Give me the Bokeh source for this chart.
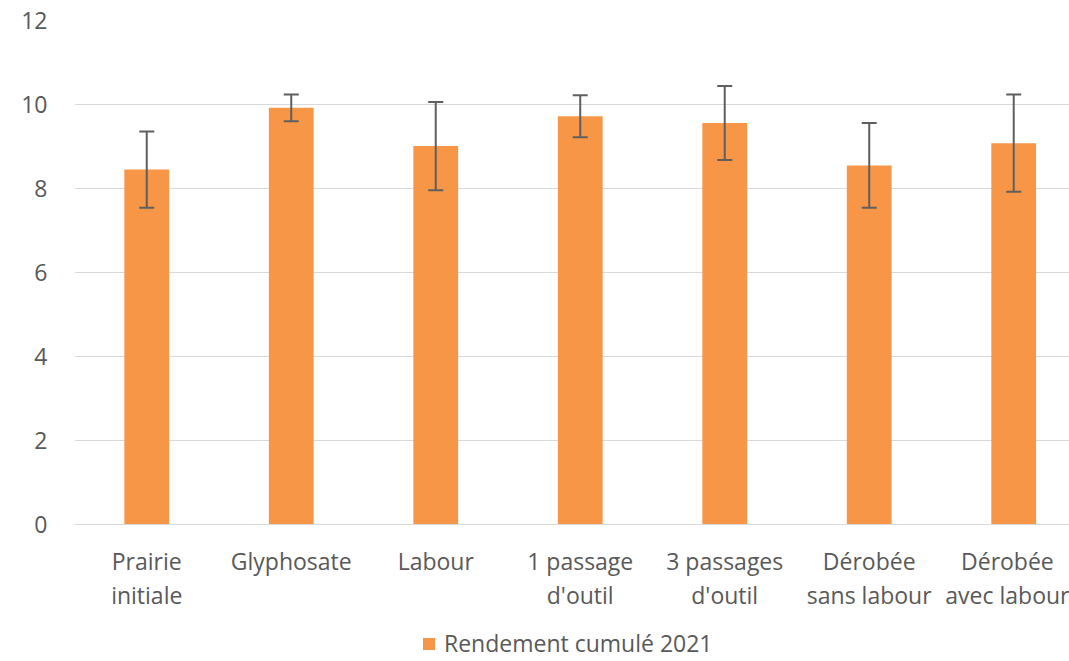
from bokeh.plotting import figure
from bokeh.layouts import column
from bokeh.models import (Whisker, TeeHead, ColumnDataSource, Legend, LegendItem,
                          FixedTicker, Range1d)
from bokeh.embed import file_html
from bokeh.resources import INLINE

categories = ["Prairie\ninitiale", "Glyphosate", "Labour", "1 passage\nd'outil",
              "3 passages\nd'outil", "Dérobée\nsans labour", "Dérobée\navec labour"]
rendement = [8.45, 9.92, 9.01, 9.72, 9.56, 8.55, 9.08]
erreur = [0.91, 0.32, 1.05, 0.50, 0.88, 1.01, 1.16]
series_name = "Rendement cumulé 2021"
y_ticks = [0, 2, 4, 6, 8, 10, 12]

xs = list(range(len(categories)))
src = ColumnDataSource(dict(
    x=xs, top=rendement,
    lower=[v - e for v, e in zip(rendement, erreur)],
    upper=[v + e for v, e in zip(rendement, erreur)],
))

FONT = "Open Sans"
FS = "23px"
TXT = "#595959"
BAR = "#F79646"
ERR = "#5f5f5f"

p = figure(width=1069, height=619, output_backend="svg", toolbar_location=None,
           x_range=Range1d(-0.5, 6.386), y_range=Range1d(0, 12),
           min_border_left=74, min_border_top=20, min_border_right=0,
           min_border_bottom=95)
p.outline_line_color = None

r = p.vbar(x="x", top="top", width=0.31, source=src, fill_color=BAR,
           line_color=None)

w = Whisker(base="x", lower="lower", upper="upper", source=src,
            line_color=ERR, line_width=2, level="annotation",
            lower_head=TeeHead(size=15, line_color=ERR, line_width=2),
            upper_head=TeeHead(size=15, line_color=ERR, line_width=2))
p.add_layout(w)

# axes
p.xaxis.ticker = FixedTicker(ticks=xs)
p.xaxis.major_label_overrides = {i: c for i, c in enumerate(categories)}
p.xaxis.axis_line_color = "#d9d9d9"
p.xaxis.axis_line_width = 1
p.xaxis.major_tick_line_color = None
p.xaxis.minor_tick_line_color = None
p.xaxis.major_label_text_font = FONT
p.xaxis.major_label_text_font_size = FS
p.xaxis.major_label_text_color = TXT
p.xaxis.major_label_standoff = 14
p.xaxis.major_label_text_line_height = 1.09

p.yaxis.ticker = FixedTicker(ticks=y_ticks)
p.yaxis.axis_line_color = None
p.yaxis.major_tick_line_color = None
p.yaxis.minor_tick_line_color = None
p.yaxis.major_label_text_font = FONT
p.yaxis.major_label_text_font_size = FS
p.yaxis.major_label_text_color = TXT
p.yaxis.major_label_standoff = 21

p.xgrid.grid_line_color = None
p.ygrid.grid_line_color = "#d9d9d9"
p.ygrid.grid_line_width = 1

# legend strip (frame aligned with the chart's frame by the column layout)
lg = figure(width=1069, height=42, output_backend="svg", toolbar_location=None,
            x_range=Range1d(0, 1), y_range=Range1d(0, 1),
            min_border=0, x_axis_type=None, y_axis_type=None)
lg.outline_line_color = None
lg.xgrid.grid_line_color = None
lg.ygrid.grid_line_color = None
swatch = lg.vbar(x=[0.5], bottom=[-6], top=[-5], width=0.1, fill_color=BAR,
                 line_color=None)
legend = Legend(items=[LegendItem(label=series_name, renderers=[swatch])],
                location=(347, 2), orientation="horizontal",
                label_text_font=FONT, label_text_font_size=FS,
                label_text_line_height=0.5, label_height=15,
                label_text_color=TXT, glyph_width=15, glyph_height=15,
                border_line_color=None, background_fill_alpha=0,
                padding=0, margin=0, label_standoff=8)
lg.add_layout(legend, "center")

open("out.html", "w").write(file_html(column(p, lg, spacing=0), INLINE))
